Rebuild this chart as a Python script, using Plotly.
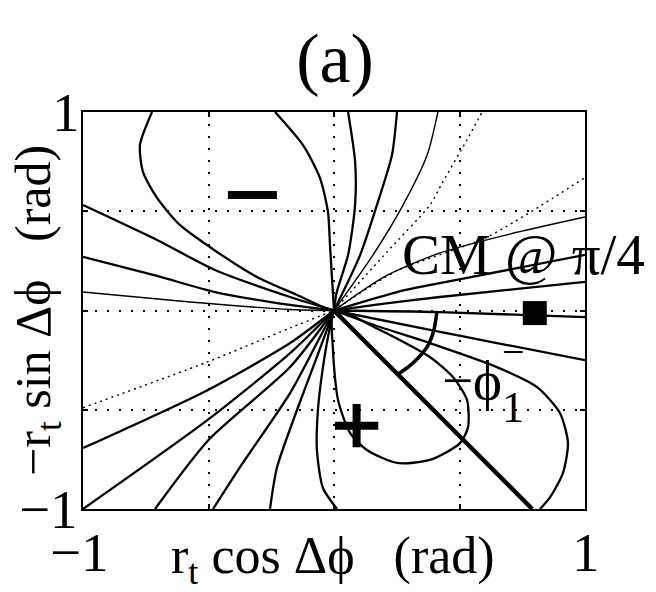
import plotly.graph_objects as go

# ---------------- data ----------------
axis_ticks = [-1, -0.5, 0, 0.5, 1]
x_label_vals = [-1, 1]
x_label_text = ["\u22121", "1"]
y_label_vals = [-1, 1]
y_label_text = ["\u22121", "1"]

# upper-left teardrop (two branches leaving through the top border)
ul_loop_left_x = [0, -0.044, -0.147, -0.307, -0.466, -0.614, -0.705, -0.761, -0.773, -0.725]
ul_loop_left_y = [0, 0.018, 0.078, 0.169, 0.295, 0.431, 0.567, 0.698, 0.834, 1.0]
ul_loop_right_x = [0, -0.008, -0.016, -0.024, -0.056, -0.124, -0.235]
ul_loop_right_y = [0, 0.164, 0.330, 0.496, 0.668, 0.834, 1.0]

# upper-left rays
ul_a_x = [-1, -0.705, -0.474, -0.175, 0]
ul_a_y = [0.531, 0.355, 0.204, 0.068, 0]
ul_b_x = [-1, -0.705, -0.474, -0.175, 0]
ul_b_y = [0.27, 0.174, 0.093, 0.028, 0]
ul_c_x = [-1, -0.574, -0.175, 0]
ul_c_y = [0.093, 0.043, 0.005, 0]

# lower-left rays
ll_dot_x = [-1, -0.506, -0.175, 0]
ll_dot_y = [-0.49, -0.26, -0.088, 0]
ll_1_x = [-1, -0.502, -0.175, 0]
ll_1_y = [-0.693, -0.40, -0.164, 0]
ll_2_x = [-1, -0.502, -0.175, 0]
ll_2_y = [-1.0, -0.55, -0.215, 0]
ll_3_x = [-0.713, -0.498, -0.175, 0]
ll_3_y = [-1.0, -0.65, -0.285, 0]
ll_4_x = [-0.482, -0.375, -0.175, -0.068, 0]
ll_4_y = [-1.0, -0.79, -0.416, -0.164, 0]
ll_5_x = [-0.255, -0.227, -0.147, -0.068, 0]
ll_5_y = [-1.0, -0.79, -0.50, -0.234, 0]
ll_6_x = [0.012, -0.044, -0.068, -0.064, -0.044, -0.016, 0]
ll_6_y = [-1.0, -0.894, -0.705, -0.501, -0.285, -0.083, 0]

# lower-right loops
plus_loop_x = [0, -0.004, 0.016, 0.064, 0.131, 0.251, 0.382, 0.502, 0.534, 0.530, 0.474, 0.382, 0.183, 0]
plus_loop_y = [0, -0.199, -0.451, -0.617, -0.703, -0.768, -0.753, -0.668, -0.587, -0.451, -0.335, -0.234, -0.098, 0]
big_loop_x = [0, 0.183, 0.382, 0.649, 0.809, 0.900, 0.932, 0.912, 0.861, 0.821]
big_loop_y = [0, -0.083, -0.164, -0.285, -0.386, -0.516, -0.667, -0.819, -0.940, -1.0]

# right-hand rays
r_low_x = [0, 0.382, 0.649, 1.0]
r_low_y = [0, -0.098, -0.164, -0.25]
r_mid_x = [0, 0.422, 1.0]
r_mid_y = [0, -0.008, -0.033]
r_u1_x = [0, 0.2, 0.422, 1.0]
r_u1_y = [0, 0.035, 0.068, 0.144]
r_u2_x = [0, 0.251, 0.422, 1.0]
r_u2_y = [0, 0.093, 0.138, 0.28]
r_u3_x = [0, 0.2, 0.422, 0.7, 1.0]
r_u3_y = [0, 0.17, 0.29, 0.385, 0.471]
r_dot_x = [0, 0.251, 0.61, 1.0]
r_dot_y = [0, 0.2, 0.37, 0.67]

# upper rays
top_dot_x = [0, 0.211, 0.382, 0.43, 0.53, 0.59]
top_dot_y = [0, 0.295, 0.531, 0.64, 0.86, 1.0]
top_3_x = [0, 0.155, 0.275, 0.371, 0.414]
top_3_y = [0, 0.279, 0.531, 0.783, 1.0]
top_2_x = [0, 0.104, 0.171, 0.231, 0.251]
top_2_y = [0, 0.279, 0.531, 0.783, 1.0]
top_1_x = [0, 0.01, 0.056, 0.084, 0.084, 0.056]
top_1_y = [0, 0.088, 0.279, 0.531, 0.751, 1.0]

# CM direction line and angle arc
cm_line_x = [0, 0.79]
cm_line_y = [0, -1.0]
arc_x = [0.410, 0.398, 0.375, 0.335, 0.295, 0.255]
arc_y = [-0.008, -0.098, -0.174, -0.239, -0.285, -0.320]

# sign markers
minus_pos = (-0.325, 0.582)
square_pos = (0.80, -0.013)
plus_pos = (0.09, -0.58)

# ---------------- figure ----------------
FONT = "Liberation Serif"
PHI = "\u03d5"
fig = go.Figure()


def add_curve(xs, ys, width, dash="solid", shape="spline"):
    fig.add_trace(go.Scatter(
        x=xs, y=ys, mode="lines",
        line=dict(color="black", width=width, dash=dash, shape=shape, smoothing=0.7),
        hoverinfo="skip", showlegend=False))


thick = [(ul_loop_left_x, ul_loop_left_y), (ul_loop_right_x, ul_loop_right_y),
         (ul_a_x, ul_a_y), (ul_b_x, ul_b_y),
         (ll_1_x, ll_1_y), (ll_2_x, ll_2_y), (ll_3_x, ll_3_y), (ll_4_x, ll_4_y),
         (ll_5_x, ll_5_y), (ll_6_x, ll_6_y),
         (plus_loop_x, plus_loop_y), (big_loop_x, big_loop_y),
         (r_low_x, r_low_y), (r_mid_x, r_mid_y), (r_u1_x, r_u1_y), (r_u2_x, r_u2_y),
         (top_2_x, top_2_y), (top_1_x, top_1_y)]
thin = [(ul_c_x, ul_c_y), (r_u3_x, r_u3_y), (top_3_x, top_3_y)]
dotted = [(ll_dot_x, ll_dot_y), (r_dot_x, r_dot_y), (top_dot_x, top_dot_y)]

for xs, ys in thick:
    add_curve(xs, ys, 2.3)
for xs, ys in thin:
    add_curve(xs, ys, 1.4)
for xs, ys in dotted:
    add_curve(xs, ys, 1.4, dash="2px,4px")

add_curve(cm_line_x, cm_line_y, 4.5, shape="linear")
add_curve(arc_x, arc_y, 3.5)

fig.add_trace(go.Scatter(x=[minus_pos[0]], y=[minus_pos[1]], mode="markers",
                         marker=dict(symbol="line-ew", size=35, line=dict(color="black", width=8)),
                         hoverinfo="skip", showlegend=False))
fig.add_trace(go.Scatter(x=[square_pos[0]], y=[square_pos[1]], mode="markers",
                         marker=dict(symbol="square", size=24, color="black"),
                         hoverinfo="skip", showlegend=False))
fig.add_trace(go.Scatter(x=[plus_pos[0]], y=[plus_pos[1]], mode="markers",
                         marker=dict(symbol="cross-thin", size=31, line=dict(color="black", width=8)),
                         hoverinfo="skip", showlegend=False))

axis_common = dict(
    range=[-1, 1], tickvals=axis_ticks, showticklabels=False,
    ticks="inside", ticklen=5, tickwidth=1.5, tickcolor="black",
    showline=True, linewidth=2, linecolor="black", mirror="ticks",
    showgrid=True, gridcolor="black", gridwidth=1.5, griddash="2px,10px",
    zeroline=False, fixedrange=True, automargin=False,
)
fig.update_xaxes(**axis_common)
fig.update_yaxes(**axis_common)

fig.update_layout(
    width=656, height=592,
    margin=dict(l=83, r=71, t=112, b=83, autoexpand=False),
    plot_bgcolor="white", paper_bgcolor="white",
    showlegend=False,
    font=dict(family=FONT, color="black"),
    title=dict(text="(a)", x=335 / 656, xanchor="center", y=1 - 57 / 592, yanchor="middle",
               font=dict(family=FONT, size=70, color="black"), automargin=False),
)

TICK_SIZE = 55
annots = []
for v, t in zip(x_label_vals, x_label_text):
    annots.append(dict(text=t, xref="x", yref="paper", x=v, y=-0.11, xshift=-4 if v < 0 else 1,
                       xanchor="center", yanchor="middle", font=dict(size=TICK_SIZE)))
for v, t in zip(y_label_vals, y_label_text):
    annots.append(dict(text=t, xref="paper", yref="y", x=0, y=v, xshift=-1 if v > 0 else -3,
                       xanchor="right", yanchor="middle", font=dict(size=TICK_SIZE)))
annots += [
    dict(text="r<sub>t</sub> cos \u0394" + PHI + "\u00a0\u00a0\u00a0(rad)", xref="paper", yref="paper",
         x=0.498, y=-0.128, xanchor="center", yanchor="middle", font=dict(size=52)),
    dict(text="\u2212r<sub>t</sub> sin \u0394" + PHI + "\u00a0\u00a0\u00a0(rad)", xref="paper", yref="paper",
         x=-0.0916, y=0.499, xanchor="center", yanchor="middle", textangle=-90, font=dict(size=50)),
    dict(text="CM @ \u03c0/4", xref="x", yref="y", x=0.263, y=0.28,
         xanchor="left", yanchor="middle", font=dict(size=57)),
    dict(text="\u2212" + PHI, xref="x", yref="y", x=0.422, y=-0.355,
         xanchor="left", yanchor="middle", font=dict(size=55)),
    dict(text="\u2212", xref="x", yref="y", x=0.717, y=-0.209,
         xanchor="center", yanchor="middle", font=dict(size=40)),
    dict(text="1", xref="x", yref="y", x=0.715, y=-0.491,
         xanchor="center", yanchor="middle", font=dict(size=44)),
]
for a in annots:
    a.setdefault("showarrow", False)
    a["font"] = dict(family=FONT, color="black", size=a["font"]["size"])
    fig.add_annotation(**a)

fig.write_html("out.html")
